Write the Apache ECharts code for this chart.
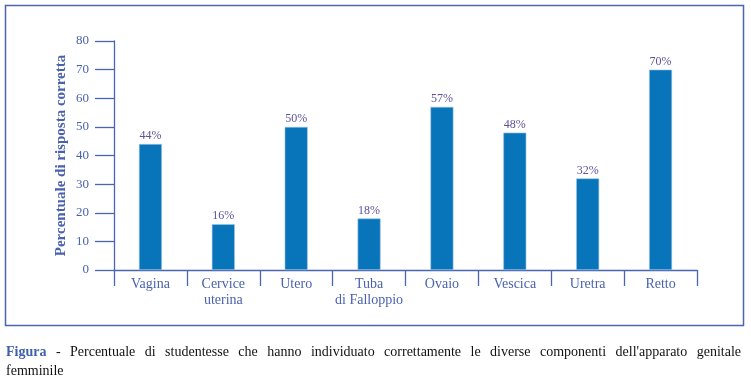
<!DOCTYPE html>
<html><head><meta charset="utf-8">
<script src="https://cdn.jsdelivr.net/npm/echarts@6/dist/echarts.min.js"></script>
<style>html,body{margin:0;padding:0;background:#fff}#c{width:751px;height:385px}</style>
</head><body><div id="c"></div>
<script>
var categories = ['Vagina', 'Cervice\nuterina', 'Utero', 'Tuba\ndi Falloppio', 'Ovaio', 'Vescica', 'Uretra', 'Retto'];
var values = [44, 16, 50, 18, 57, 48, 32, 70];
var yTicks = [0, 10, 20, 30, 40, 50, 60, 70, 80];
var yAxisName = 'Percentuale di risposta corretta';
var captionLabel = 'Figura';
var captionLine1 = '- Percentuale di studentesse che hanno individuato correttamente le diverse componenti dell\'apparato genitale';
var captionLine2 = 'femminile';

var axisColor = '#4a66b3';
var serif = "'Liberation Serif', 'DejaVu Serif', serif";
var chart = echarts.init(document.getElementById('c'), null, {renderer: 'canvas'});

// justified caption layout
var ctx = document.createElement('canvas').getContext('2d');
var capFont = '14px ' + serif;
var capFontBold = 'bold 14px ' + serif;
var capLeft = 6, capRight = 741, capY1 = 345, capY2 = 364;
var words = [captionLabel].concat(captionLine1.split(' '));
var widths = words.map(function (w, i) { ctx.font = i === 0 ? capFontBold : capFont; return ctx.measureText(w).width; });
var total = widths.reduce(function (a, b) { return a + b; }, 0);
var gap = (capRight - capLeft - total) / (words.length - 1);
var capGraphics = [];
var cx = capLeft;
words.forEach(function (w, i) {
  capGraphics.push({
    type: 'text', left: cx, top: capY1,
    style: { text: w, font: i === 0 ? capFontBold : capFont, fill: i === 0 ? '#3f5fae' : '#111' }
  });
  cx += widths[i] + gap;
});
capGraphics.push({ type: 'text', left: capLeft, top: capY2, style: { text: captionLine2, font: capFont, fill: '#111' } });

chart.setOption({
  animation: false,
  grid: { left: 114, right: 54, top: 41, bottom: 115 },
  xAxis: {
    type: 'category',
    data: categories,
    axisLine: { lineStyle: { color: axisColor, width: 1.3 } },
    axisTick: { show: true, length: 16, lineStyle: { color: axisColor, width: 1.3 } },
    axisLabel: { color: '#4a62ad', fontFamily: serif, fontSize: 14, margin: 6, lineHeight: 16, interval: 0 }
  },
  yAxis: {
    type: 'value', min: yTicks[0], max: yTicks[yTicks.length - 1], interval: 10,
    name: yAxisName, nameLocation: 'middle', nameGap: 45, nameMoveOverlap: false,
    nameTextStyle: { color: '#4a62ad', fontFamily: serif, fontSize: 15, fontWeight: 'bold' },
    axisLine: { show: true, lineStyle: { color: axisColor, width: 1.3 } },
    axisTick: { show: true, length: 19, lineStyle: { color: axisColor, width: 1.3 } },
    axisLabel: { color: '#4a62ad', fontFamily: serif, fontSize: 13, margin: 25 },
    splitLine: { show: false }
  },
  series: [{
    type: 'bar', data: values, barWidth: 23,
    itemStyle: { color: '#0874ba', borderColor: '#9fc6e6', borderWidth: 0.6 },
    label: { show: true, position: 'top', distance: 2, formatter: '{c}%', color: '#5c5299', fontFamily: serif, fontSize: 12 }
  }],
  graphic: [{
    type: 'rect', shape: { x: 5.5, y: 5.5, width: 738, height: 320 },
    style: { fill: 'none', stroke: '#4a66b3', lineWidth: 1.5 }, silent: true
  }].concat(capGraphics)
});
</script></body></html>
